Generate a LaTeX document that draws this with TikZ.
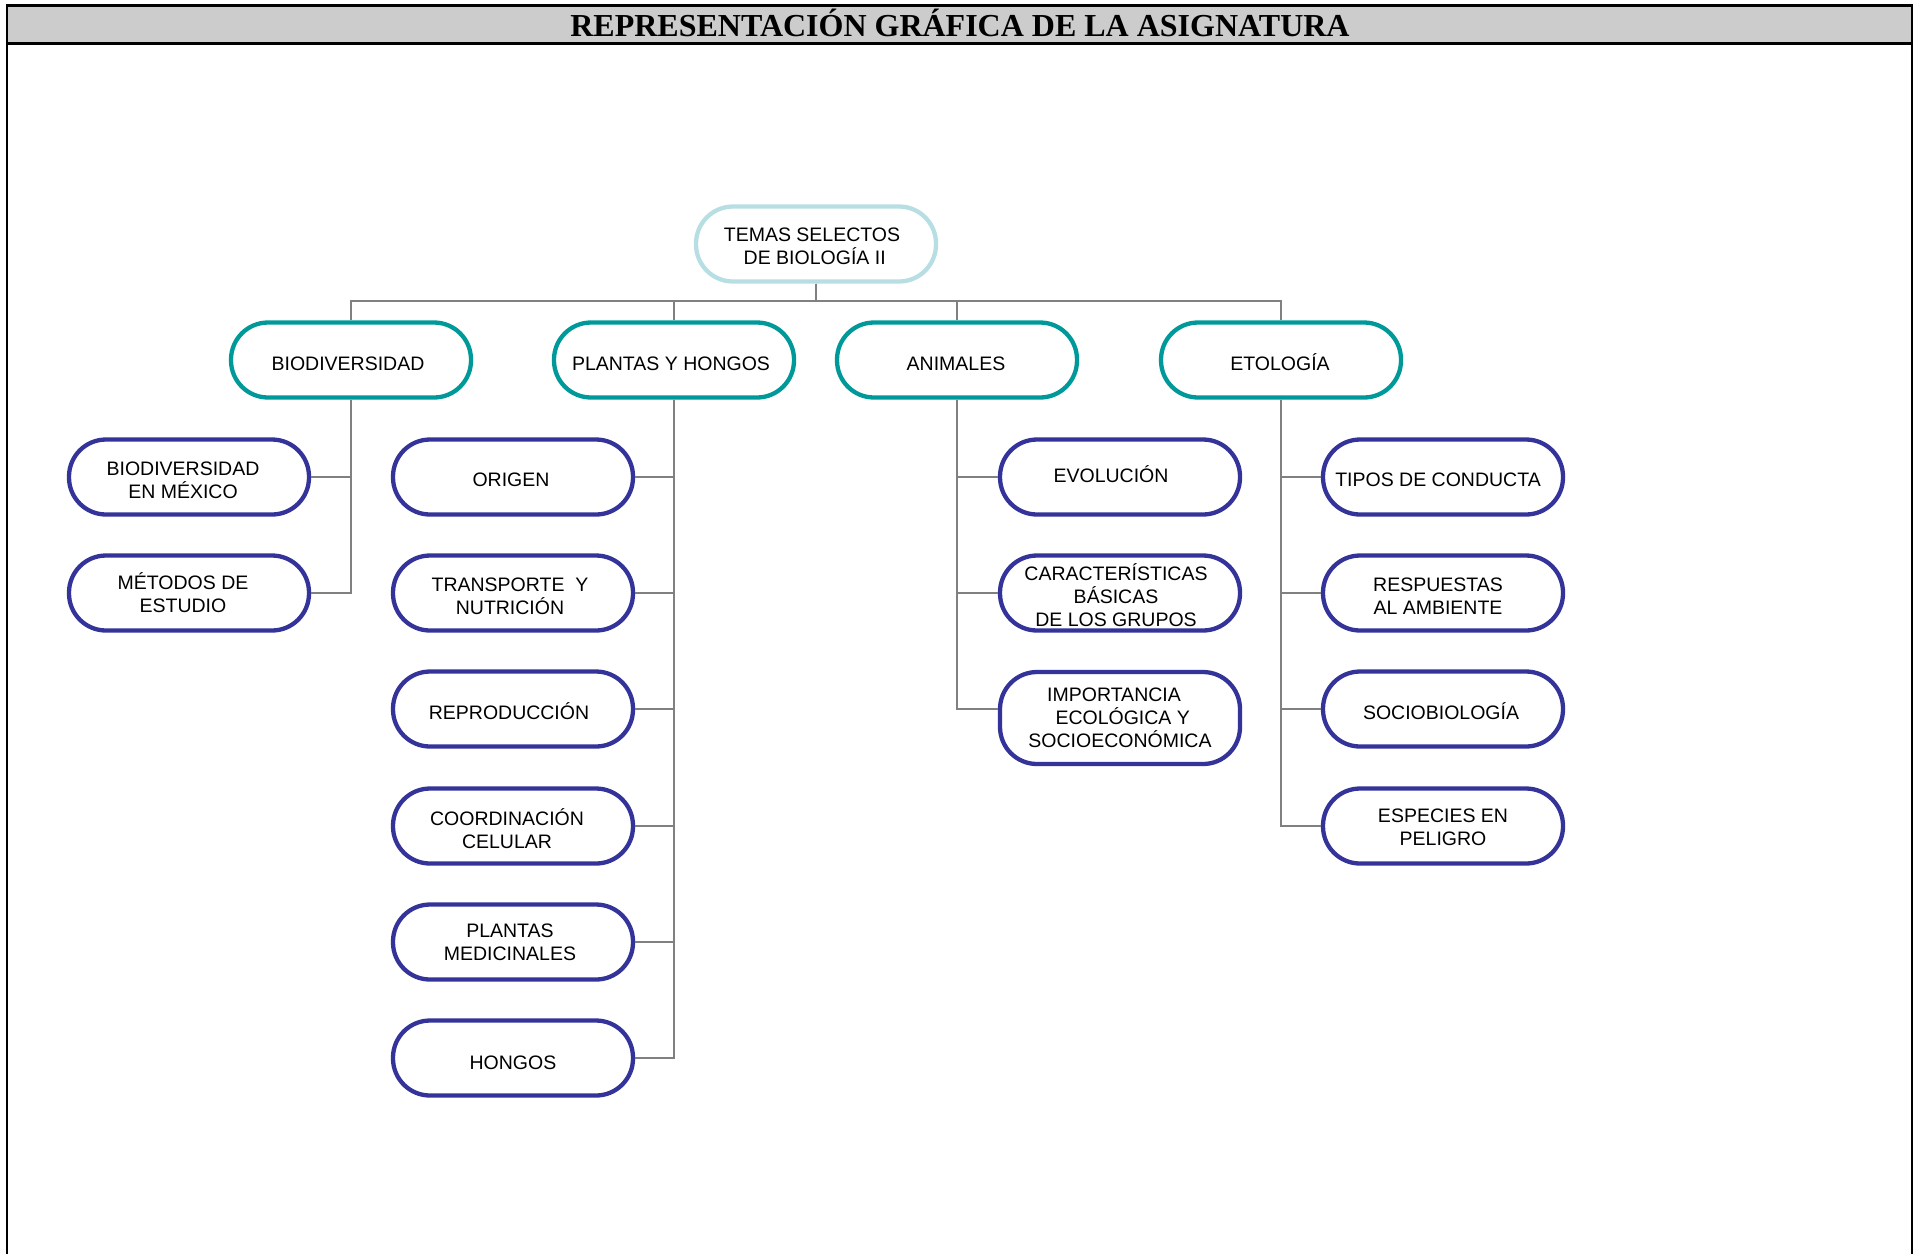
\documentclass[tikz,border=0pt]{standalone}
\usepackage{fontspec}
\setmainfont{Liberation Sans}
\newfontfamily\titlefont{Liberation Serif}
\definecolor{rootc}{HTML}{B7DFE3}
\definecolor{tealc}{HTML}{009999}
\definecolor{navyc}{HTML}{333399}
\definecolor{connc}{HTML}{808080}
\definecolor{barc}{HTML}{CCCCCC}
\tikzset{
  box/.style={draw, line width=4.3pt, rounded corners=37pt, minimum width=240pt,
    minimum height=75pt, inner sep=2pt, fill=white},
  rootbox/.style={box, draw=rootc},
  topbox/.style={box, draw=tealc},
  subbox/.style={box, draw=navyc},
  lab/.style={align=center, inner sep=0pt, text=black,
    font=\fontsize{19.5}{23}\selectfont},
  conn/.style={draw=connc, line width=1.8pt},
}
% #1 style, #2 name, #3 x, #4 y, #5 text xshift, #6 text yshift, #7 text
\newcommand\tbox[7]{\node[#1, label={[lab, xshift=#5pt, yshift=#6pt]center:{#7}}] (#2) at (#3,#4) {};}
\begin{document}
\begin{tikzpicture}[x=1pt,y=-1pt]
\useasboundingbox (0,0) rectangle (1921,1254);
% frame and title bar
\fill[barc] (7,5) rectangle (1912,43);
\draw[line width=1.5pt] (7,5) -- (7,1254);
\draw[line width=1.5pt] (1912,5) -- (1912,1254);
\draw[line width=3pt] (6,5) -- (1913,5);
\draw[line width=3pt] (6,43) -- (1913,43);
\node[font=\titlefont\bfseries\fontsize{32}{32}\selectfont, inner sep=0pt] (title) at (960,22.5) {REPRESENTACIÓN GRÁFICA DE LA ASIGNATURA};

% root
\tbox{rootbox}{root}{816}{244}{-4}{-2.5}{TEMAS SELECTOS\\ \ DE BIOLOGÍA II}
% level 1
\tbox{topbox}{bio}{351}{360}{-3}{-3.7}{BIODIVERSIDAD}
\tbox{topbox}{pla}{674}{360}{-3}{-3.7}{PLANTAS Y HONGOS}
\tbox{topbox}{ani}{957}{360}{-1}{-3.7}{ANIMALES}
\tbox{topbox}{eto}{1281}{360}{-1}{-2.5}{ETOLOGÍA}
% biodiversidad
\tbox{subbox}{b1}{189}{477}{-6}{-3.7}{BIODIVERSIDAD\\EN MÉXICO}
\tbox{subbox}{b2}{189}{593}{-6}{0}{MÉTODOS DE\\ESTUDIO}
% plantas
\tbox{subbox}{p1}{513}{477}{-2}{-2.5}{ORIGEN}
\tbox{subbox}{p2}{513}{593}{-3}{-3}{TRANSPORTE \ Y\\NUTRICIÓN}
\tbox{subbox}{p3}{513}{709}{-4}{-2.5}{REPRODUCCIÓN}
\tbox{subbox}{p4}{513}{826}{-6}{-3}{COORDINACIÓN\\CELULAR}
\tbox{subbox}{p5}{513}{942}{-3}{-0.5}{PLANTAS\\MEDICINALES}
\tbox{subbox}{p6}{513}{1058}{0}{-5}{HONGOS}
% animales
\tbox{subbox}{a1}{1120}{477}{-9}{2.5}{EVOLUCIÓN}
\tbox{subbox}{a2}{1120}{593}{-4}{-2.5}{CARACTERÍSTICAS\\BÁSICAS\\DE LOS GRUPOS}
\node[subbox, minimum height=92pt, label={[lab, xshift=0pt, yshift=0pt]center:{IMPORTANCIA\hspace*{12pt}\\ \ ECOLÓGICA Y\\SOCIOECONÓMICA}}] (a3) at (1120,718) {};
% etologia
\tbox{subbox}{e1}{1443}{477}{-5}{-2.5}{TIPOS DE CONDUCTA}
\tbox{subbox}{e2}{1443}{593}{-5}{-3.5}{RESPUESTAS\\AL AMBIENTE}
\tbox{subbox}{e3}{1443}{709}{-2}{-2.5}{SOCIOBIOLOGÍA}
\tbox{subbox}{e4}{1443}{826}{0}{-1}{ESPECIES EN\\PELIGRO}

% connectors
\coordinate (bus) at (0,301);
\foreach \n in {bio,pla,ani,eto}
  \draw[conn] (root.south) -- (root.south |- bus) -| (\n.north);
\foreach \n in {b1,b2}
  \draw[conn] (bio.south) |- (\n.east);
\foreach \n in {p1,p2,p3,p4,p5,p6}
  \draw[conn] (pla.south) |- (\n.east);
\foreach \n in {a1,a2}
  \draw[conn] (ani.south) |- (\n.west);
\draw[conn] (ani.south) |- ([yshift=9pt]a3.west);
\foreach \n in {e1,e2,e3,e4}
  \draw[conn] (eto.south) |- (\n.west);
\end{tikzpicture}
\end{document}
